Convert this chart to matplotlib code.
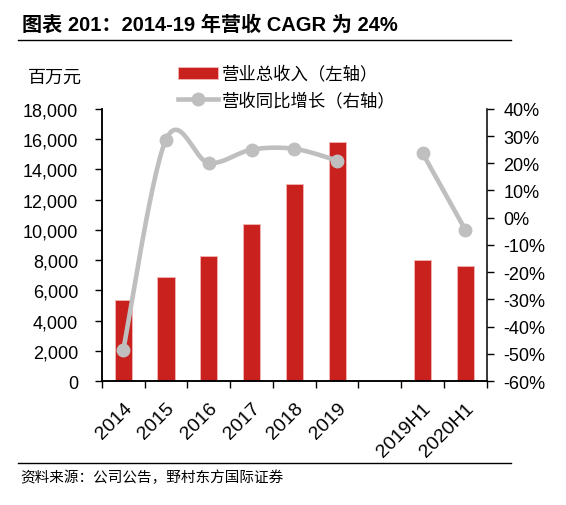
import numpy as np
import matplotlib.pyplot as plt
from matplotlib.ticker import FuncFormatter, MultipleLocator

plt.rcParams['font.family'] = ['Liberation Sans', 'Noto Sans CJK SC']

# 数据
categories = ['2014', '2015', '2016', '2017', '2018', '2019', '', '2019H1', '2020H1']
revenue = [5360, 6900, 8290, 10370, 13020, 15800, np.nan, 8010, 7630]
growth = [-48.5, 28.7, 20.1, 25.0, 25.3, 21.0, np.nan, 23.7, -4.5]

RED = '#C9211E'
GREY = '#BFBFBF'


def smooth(xs, ys, n=30):
    # 类似 Excel 平滑线（Catmull-Rom 转 Bezier）
    xs = np.asarray(xs, float)
    ys = np.asarray(ys, float)
    if len(xs) < 3:
        return xs, ys
    px = np.concatenate([[xs[0]], xs, [xs[-1]]])
    py = np.concatenate([[ys[0]], ys, [ys[-1]]])
    ox, oy = [], []
    t = np.linspace(0, 1, n)
    for i in range(1, len(px) - 2):
        p0 = np.array([px[i - 1], py[i - 1]])
        p1 = np.array([px[i], py[i]])
        p2 = np.array([px[i + 1], py[i + 1]])
        p3 = np.array([px[i + 2], py[i + 2]])
        b1 = p1 + (p2 - p0) / 6
        b2 = p2 - (p3 - p1) / 6
        pts = ((1 - t) ** 3)[:, None] * p1 + (3 * (1 - t) ** 2 * t)[:, None] * b1 \
            + (3 * (1 - t) * t ** 2)[:, None] * b2 + (t ** 3)[:, None] * p2
        ox.extend(pts[:, 0])
        oy.extend(pts[:, 1])
    return np.array(ox), np.array(oy)


fig = plt.figure(figsize=(5.66, 5.06), dpi=100)
ax = fig.add_axes([0.180, 0.245, 0.680, 0.538])
ax2 = ax.twinx()

x = np.arange(len(categories))
ax.bar(x, revenue, width=0.40, color=RED, edgecolor='#F2B8B6', linewidth=0.6,
       label='营业总收入（左轴）', zorder=2)

# 折线分两段（中间空一格）
g = np.array(growth)
segs = [(0, 6), (7, 9)]
for a, b in segs:
    sx, sy = smooth(x[a:b], g[a:b])
    ax2.plot(sx, sy, color=GREY, lw=3.3, solid_capstyle='round', zorder=3)
ax2.plot(x, g, 'o', color=GREY, ms=9, zorder=4)
ax2.plot([], [], '-o', color=GREY, lw=3.3, ms=9, label='营收同比增长（右轴）')

ax.set_xlim(-0.5, len(categories) - 0.5)
ax.set_ylim(0, 18000)
ax.yaxis.set_major_locator(MultipleLocator(2000))
ax.yaxis.set_major_formatter(FuncFormatter(lambda v, p: f'{int(v):,}'))
ax2.set_ylim(-60, 40)
ax2.yaxis.set_major_locator(MultipleLocator(10))
ax2.yaxis.set_major_formatter(FuncFormatter(lambda v, p: f'{int(round(v))}%'))

ax.set_xticks(np.arange(-0.5, len(categories), 1.0))
ax.set_xticklabels([])
ax.set_xticks(x, minor=True)
ax.set_xticklabels(categories, minor=True, rotation=45, ha='right',
                   rotation_mode='anchor', fontsize=14)
ax.tick_params(axis='x', which='minor', length=0, pad=13)
ax.tick_params(axis='x', which='major', length=5, width=1, direction='out')
ax.tick_params(axis='y', length=5, width=1, labelsize=13, pad=12)
ax2.tick_params(axis='y', length=5, width=1, labelsize=13, pad=7)

for a in (ax, ax2):
    a.spines['top'].set_visible(False)
    for s in ('left', 'right', 'bottom'):
        a.spines[s].set_linewidth(1.1)
ax.spines['right'].set_visible(False)

# 标题与线
fig.text(0.038, 0.950, '图表 201：2014-19 年营收 CAGR 为 24%', fontsize=14.5,
         fontweight='bold', va='center', ha='left')
fig.add_artist(plt.Line2D([0.032, 0.902], [0.918, 0.918], color='black', lw=1))
fig.add_artist(plt.Line2D([0.032, 0.902], [0.083, 0.083], color='black', lw=1))
fig.text(0.035, 0.055, '资料来源：公司公告，野村东方国际证券', fontsize=10.5,
         va='center', ha='left', family=['Noto Sans CJK SC'])

fig.text(0.049, 0.846, '百万元', fontsize=13, va='center', ha='left',
         family=['Noto Sans CJK SC'])

h1, l1 = ax.get_legend_handles_labels()
h2, l2 = ax2.get_legend_handles_labels()
fig.legend(h1 + h2, l1 + l2, loc='upper left', bbox_to_anchor=(0.3145, 0.870),
           frameon=False, borderpad=0, borderaxespad=0, handlelength=2.3,
           handletextpad=0.25, labelspacing=0.5,
           prop={'family': ['Noto Sans CJK SC'], 'size': 12.5})

fig.savefig('out.png', dpi=100)
